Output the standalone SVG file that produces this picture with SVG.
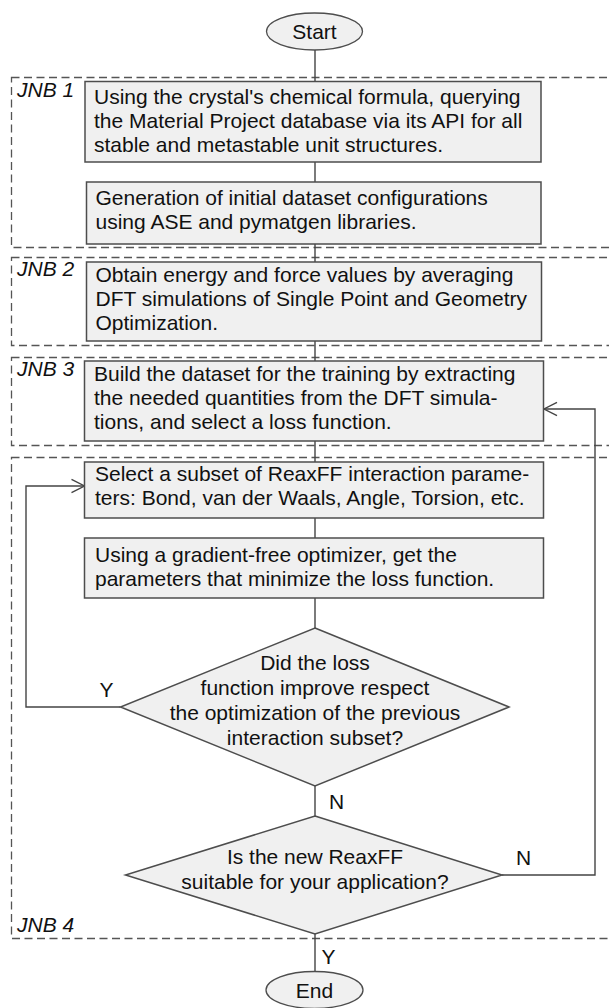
<svg xmlns="http://www.w3.org/2000/svg" width="609" height="1008" viewBox="0 0 609 1008">
<defs>
<style>
.bg{fill:#ffffff}
.box{fill:#f0f0f0;stroke:#4d4d4d;stroke-width:1.5}
.term{fill:#f0f0f0;stroke:#4d4d4d;stroke-width:1.3}
.grp{fill:none;stroke:#555555;stroke-width:1.3;stroke-dasharray:8 4.5}
.con{fill:none;stroke:#444444;stroke-width:1.4}
.t{font-family:"Liberation Sans",Arial,Helvetica,sans-serif;font-size:21px;fill:#111111}
.c{text-anchor:middle}
.lbl{font-family:"Liberation Sans",Arial,Helvetica,sans-serif;font-size:21px;font-style:italic;fill:#111111}
</style>
<marker id="arr" markerUnits="userSpaceOnUse" markerWidth="16" markerHeight="16" viewBox="0 0 16 16" refX="14" refY="8" orient="auto">
<path d="M1,1.3 L14,8 L1,14.7" fill="none" stroke="#444444" stroke-width="1.4"/>
</marker>
</defs>
<rect class="bg" x="0" y="0" width="609" height="1008"/>

<g id="groups">
<g id="jnb1"><rect class="grp" x="11.5" y="77.5" width="620" height="170"/><text class="lbl" x="17" y="96.5">JNB 1</text></g>
<g id="jnb2"><rect class="grp" x="11.5" y="257.5" width="620" height="88"/><text class="lbl" x="17" y="275.5">JNB 2</text></g>
<g id="jnb3"><rect class="grp" x="11.5" y="357.5" width="620" height="88"/><text class="lbl" x="17" y="375.5">JNB 3</text></g>
<g id="jnb4"><rect class="grp" x="11.5" y="457.5" width="620" height="481"/><text class="lbl" x="17" y="932">JNB 4</text></g>
</g>

<g id="connectors">
<line class="con" x1="315" y1="50" x2="315" y2="82"/>
<line class="con" x1="315" y1="162" x2="315" y2="182"/>
<line class="con" x1="315" y1="244" x2="315" y2="262"/>
<line class="con" x1="315" y1="341" x2="315" y2="361"/>
<line class="con" x1="315" y1="441" x2="315" y2="462"/>
<line class="con" x1="315" y1="518" x2="315" y2="538"/>
<line class="con" x1="315" y1="598" x2="315" y2="628"/>
<line class="con" x1="315" y1="786" x2="315" y2="816"/>
<line class="con" x1="315" y1="934" x2="315" y2="971.5"/>
<polyline class="con" points="120.5,707 26,707 26,486 84.5,486" marker-end="url(#arr)"/>
<polyline class="con" points="502,875 595,875 595,409 544,409" marker-end="url(#arr)"/>
<text class="t" x="99.5" y="696.5">Y</text>
<text class="t" x="329" y="808.5">N</text>
<text class="t" x="516" y="864.5">N</text>
<text class="t" x="321.5" y="963.5">Y</text>
</g>

<g id="start"><ellipse class="term" cx="314.5" cy="31.5" rx="48" ry="18.5"/><text class="t c" x="314.5" y="38.5">Start</text></g>

<g id="box1"><rect class="box" x="85" y="81.5" width="456" height="80.5"/>
<text class="t"><tspan x="94" y="103.5">Using the crystal's chemical formula, querying</tspan><tspan x="94" y="127.5">the Material Project database via its API for all</tspan><tspan x="94" y="151.5">stable and metastable unit structures.</tspan></text></g>

<g id="box2"><rect class="box" x="86.5" y="182" width="454.5" height="62"/>
<text class="t"><tspan x="95.5" y="204.5">Generation of initial dataset configurations</tspan><tspan x="95.5" y="228.5">using ASE and pymatgen libraries.</tspan></text></g>

<g id="box3"><rect class="box" x="86.5" y="262" width="455" height="79"/>
<text class="t"><tspan x="95.5" y="281.5">Obtain energy and force values by averaging</tspan><tspan x="95.5" y="305.5">DFT simulations of Single Point and Geometry</tspan><tspan x="95.5" y="329.5">Optimization.</tspan></text></g>

<g id="box4"><rect class="box" x="84.5" y="361" width="459" height="80"/>
<text class="t"><tspan x="94" y="380.5">Build the dataset for the training by extracting</tspan><tspan x="94" y="404.5">the needed quantities from the DFT simula-</tspan><tspan x="94" y="428.5">tions, and select a loss function.</tspan></text></g>

<g id="box5"><rect class="box" x="84.5" y="462" width="459" height="56"/>
<text class="t"><tspan x="95" y="481">Select a subset of ReaxFF interaction parame-</tspan><tspan x="95" y="505">ters: Bond, van der Waals, Angle, Torsion, etc.</tspan></text></g>

<g id="box6"><rect class="box" x="84.5" y="538" width="459" height="60"/>
<text class="t"><tspan x="95" y="561.5">Using a gradient-free optimizer, get the</tspan><tspan x="95" y="585.5">parameters that minimize the loss function.</tspan></text></g>

<g id="dec1"><polygon class="box" points="315,628 509,707 315,786 120.5,707"/>
<text class="t c"><tspan x="315" y="670">Did the loss</tspan><tspan x="315" y="695">function improve respect</tspan><tspan x="315" y="720">the optimization of the previous</tspan><tspan x="315" y="745">interaction subset?</tspan></text></g>

<g id="dec2"><polygon class="box" points="315,816 502,875 315,934 125.5,875"/>
<text class="t c"><tspan x="315" y="864">Is the new ReaxFF</tspan><tspan x="315" y="888.5">suitable for your application?</tspan></text></g>

<g id="end"><ellipse class="term" cx="314.5" cy="990" rx="48.5" ry="18.5"/><text class="t c" x="314.5" y="997.5">End</text></g>
</svg>
